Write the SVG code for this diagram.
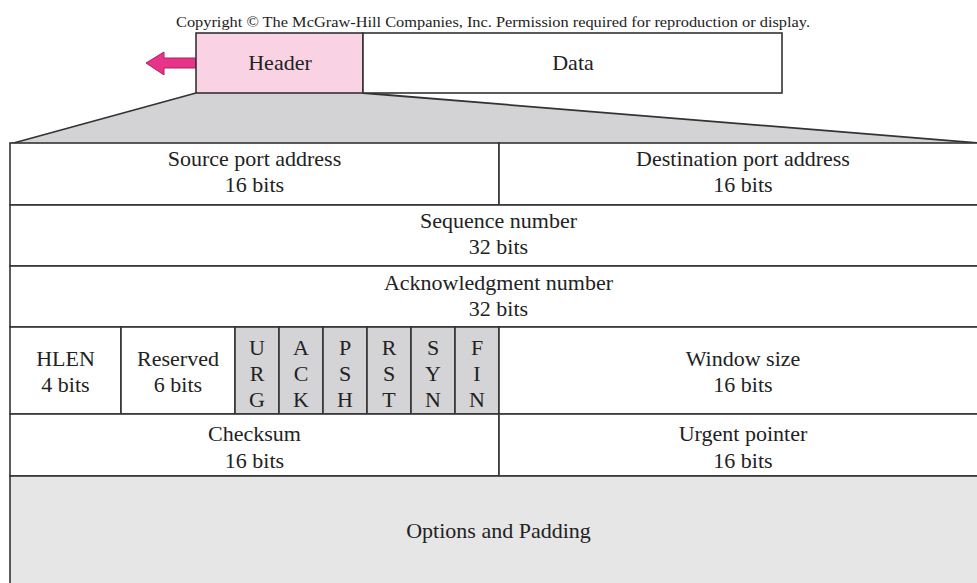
<svg xmlns="http://www.w3.org/2000/svg" width="977" height="583" viewBox="0 0 977 583">
<style>
  text { font-family: "Liberation Serif", "Times New Roman", serif; fill: #222; text-anchor: middle; }
  .t { font-size: 22px; }
  .cp { font-size: 14px; }
  .cell { fill: #ffffff; stroke: #333; stroke-width: 1.6; }
  .flag { fill: #d4d4d6; stroke: #333; stroke-width: 1.6; }
  .opt { fill: #e6e6e6; stroke: #333; stroke-width: 1.6; }
  .ln { fill: none; stroke: #333; stroke-width: 1.8; }
</style>
<rect x="0" y="0" width="977" height="583" fill="#ffffff"/>
<text class="cp" x="493" y="27" textLength="634" lengthAdjust="spacingAndGlyphs">Copyright © The McGraw-Hill Companies, Inc. Permission required for reproduction or display.</text>

<g id="connectors">
  <polygon points="196,93 363,93 990,144 10,144" fill="#d3d3d5"/>
  <polyline class="ln" points="10,144 196,93"/>
  <polyline class="ln" points="363,93 990,144"/>
  <polygon points="146,63 164,52 164,58 196,58 196,68 164,68 164,75" fill="#e8338a" stroke="#b0205f" stroke-width="1"/>
</g>

<g id="segment">
  <g id="header"><rect x="196" y="33" width="167" height="60" fill="#f9d3e3" stroke="#333" stroke-width="1.6"/><text class="t" x="280" y="70">Header</text></g>
  <g id="data"><rect x="363" y="33" width="419" height="60" class="cell"/><text class="t" x="573" y="70">Data</text></g>
</g>

<g id="source-port"><rect class="cell" x="10" y="143" width="489" height="62"/><text class="t" x="254.5" y="166">Source port address</text><text class="t" x="254.5" y="192">16 bits</text></g>
<g id="dest-port"><rect class="cell" x="499" y="143" width="490" height="62"/><text class="t" x="743" y="166">Destination port address</text><text class="t" x="743" y="192">16 bits</text></g>

<g id="sequence"><rect class="cell" x="10" y="205" width="979" height="61"/><text class="t" x="498.5" y="228">Sequence number</text><text class="t" x="498.5" y="254">32 bits</text></g>
<g id="ack"><rect class="cell" x="10" y="266" width="979" height="61"/><text class="t" x="498.5" y="290">Acknowledgment number</text><text class="t" x="498.5" y="316">32 bits</text></g>

<g id="hlen"><rect class="cell" x="10" y="327" width="111" height="87"/><text class="t" x="65.5" y="366">HLEN</text><text class="t" x="65.5" y="392">4 bits</text></g>
<g id="reserved"><rect class="cell" x="121" y="327" width="114" height="87"/><text class="t" x="178" y="366">Reserved</text><text class="t" x="178" y="392">6 bits</text></g>
<g id="urg"><rect class="flag" x="235" y="327" width="44" height="87"/><text class="t" x="257" y="355">U</text><text class="t" x="257" y="381">R</text><text class="t" x="257" y="407">G</text></g>
<g id="ackf"><rect class="flag" x="279" y="327" width="44" height="87"/><text class="t" x="301" y="355">A</text><text class="t" x="301" y="381">C</text><text class="t" x="301" y="407">K</text></g>
<g id="psh"><rect class="flag" x="323" y="327" width="44" height="87"/><text class="t" x="345" y="355">P</text><text class="t" x="345" y="381">S</text><text class="t" x="345" y="407">H</text></g>
<g id="rst"><rect class="flag" x="367" y="327" width="44" height="87"/><text class="t" x="389" y="355">R</text><text class="t" x="389" y="381">S</text><text class="t" x="389" y="407">T</text></g>
<g id="syn"><rect class="flag" x="411" y="327" width="44" height="87"/><text class="t" x="433" y="355">S</text><text class="t" x="433" y="381">Y</text><text class="t" x="433" y="407">N</text></g>
<g id="fin"><rect class="flag" x="455" y="327" width="44" height="87"/><text class="t" x="477" y="355">F</text><text class="t" x="477" y="381">I</text><text class="t" x="477" y="407">N</text></g>
<g id="window"><rect class="cell" x="499" y="327" width="490" height="87"/><text class="t" x="743" y="366">Window size</text><text class="t" x="743" y="392">16 bits</text></g>

<g id="checksum"><rect class="cell" x="10" y="414" width="489" height="62"/><text class="t" x="254.5" y="441">Checksum</text><text class="t" x="254.5" y="468">16 bits</text></g>
<g id="urgent"><rect class="cell" x="499" y="414" width="490" height="62"/><text class="t" x="743" y="441">Urgent pointer</text><text class="t" x="743" y="468">16 bits</text></g>

<g id="options"><rect class="opt" x="10" y="476" width="979" height="120"/><text class="t" x="498.5" y="538">Options and Padding</text></g>
</svg>
